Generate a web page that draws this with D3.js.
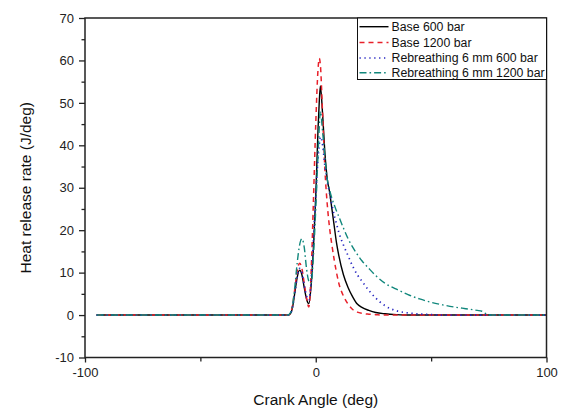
<!DOCTYPE html>
<html>
<head>
<meta charset="utf-8">
<script src="https://cdn.jsdelivr.net/npm/d3@7"></script>
<style>
  html, body { margin: 0; padding: 0; background: #fff; }
  svg { display: block; font-family: "Liberation Sans", Arial, sans-serif; }
</style>
</head>
<body>
<svg id="chart" width="562" height="415"></svg>
<script>
// ---- data ----
const crankAngle = [-95, -50, -20, -12, -11, -10, -9, -8, -7, -6, -5, -4, -3, -2, -1, 0, 1, 1.5, 2, 3, 4, 5, 6, 7, 8, 9, 10, 12, 14, 16, 18, 20, 23, 26, 30, 35, 40, 45, 50, 55, 60, 65, 70, 72, 75, 80, 90, 100];

const base600 =  [0, 0, 0, 0, 0.3, 2, 5.5, 9, 10.6, 9.5, 6.5, 3.8, 2.7, 7, 16, 28, 44, 50, 54, 47, 38, 32, 29, 25, 21, 17, 14, 9.5, 6.5, 4.3, 2.6, 1.8, 1.1, 0.6, 0.3, 0.1, 0, 0, 0, 0, 0, 0, 0, 0, 0, 0, 0, 0];
const base1200 = [0, 0, 0, 0, 0.3, 2.5, 6.5, 10.5, 12.2, 11, 7.5, 4, 1.9, 10, 27, 45, 58, 60.5, 59, 47, 34, 26, 20.5, 16.5, 13, 10, 7.5, 4.5, 2.6, 1.3, 0.7, 0.4, 0.2, 0.1, 0, 0, 0, 0, 0, 0, 0, 0, 0, 0, 0, 0, 0, 0];
const reb600 =   [0, 0, 0, 0, 0.3, 2, 5.5, 9, 11, 10, 7, 4.5, 3.5, 8, 18, 28, 37, 40, 42, 40, 35, 31.5, 28.7, 26, 23.5, 21.5, 19.5, 16.5, 14, 11.5, 9.5, 8, 5.8, 4, 2.2, 1, 0.5, 0.25, 0.1, 0, 0, 0, 0, 0, 0, 0, 0, 0];
const reb1200 =  [0, 0, 0, 0, 0.5, 2.5, 7, 12.5, 16.5, 18, 16, 11, 8, 7.5, 14, 25, 38, 44, 48, 43, 37, 32, 29.5, 27.5, 26, 24.5, 23.2, 20.5, 18, 16, 14.3, 12.8, 11, 9.3, 7.5, 6.1, 4.8, 3.8, 3, 2.4, 1.9, 1.5, 1.1, 0.9, 0, 0, 0, 0];

const seriesNames = ["Base 600 bar", "Base 1200 bar", "Rebreathing 6 mm 600 bar", "Rebreathing 6 mm 1200 bar"];
const seriesValues = [base600, base1200, reb600, reb1200];
const seriesColors = ["#000000", "#e8202a", "#2424c0", "#11877c"];
const seriesDash = [null, "5,4", "1.3,3.6", "7,3,1.6,3"];
const seriesWidth = [1.4, 1.5, 1.7, 1.4];

const xMajorTicks = [-100, 0, 100];
const xMinorTicks = [-50, 50];
const yMajorTicks = [-10, 0, 10, 20, 30, 40, 50, 60, 70];
const yMinorTicks = [-5, 5, 15, 25, 35, 45, 55, 65];

const xTitle = "Crank Angle (deg)";
const yTitle = "Heat release rate (J/deg)";

// ---- layout ----
const svg = d3.select("#chart");
const L = 85, R = 546.5, T = 18, B = 357.5;

const x = d3.scaleLinear().domain([-100, 100]).range([L, R]);
const y = d3.scaleLinear().domain([-10, 70]).range([B, T]);

const axisColor = "#222";
const plainNum = d => String(d);

// lines
const line = d3.line()
  .x(d => x(d[0]))
  .y(d => y(d[1]))
  .curve(d3.curveMonotoneX);

const g = svg.append("g");
seriesValues.forEach((vals, i) => {
  const pts = crankAngle.map((a, j) => [a, vals[j]]);
  g.append("path")
    .datum(pts)
    .attr("d", line)
    .attr("fill", "none")
    .attr("stroke", seriesColors[i])
    .attr("stroke-width", seriesWidth[i])
    .attr("stroke-dasharray", seriesDash[i]);
});

// axes
function styleAxis(sel) {
  sel.select(".domain").remove();
  sel.selectAll("line").attr("stroke", axisColor).attr("stroke-width", 1.3);
  sel.selectAll("text").attr("fill", axisColor).style("font-size", "13px")
     .style("font-family", "'Liberation Sans', Arial, sans-serif");
}

svg.append("g").attr("transform", `translate(0,${B})`)
  .call(d3.axisBottom(x).tickValues(xMajorTicks).tickSize(5).tickPadding(5).tickFormat(plainNum))
  .call(styleAxis);
svg.append("g").attr("transform", `translate(0,${B})`)
  .call(d3.axisBottom(x).tickValues(xMinorTicks).tickSize(4).tickFormat(""))
  .call(styleAxis);

svg.append("g").attr("transform", `translate(${L},0)`)
  .call(d3.axisLeft(y).tickValues(yMajorTicks).tickSize(6).tickPadding(5).tickFormat(plainNum))
  .call(styleAxis);
svg.append("g").attr("transform", `translate(${L},0)`)
  .call(d3.axisLeft(y).tickValues(yMinorTicks).tickSize(3.5).tickFormat(""))
  .call(styleAxis);

// frame
svg.append("rect")
  .attr("x", L).attr("y", T).attr("width", R - L).attr("height", B - T)
  .attr("fill", "none").attr("stroke", axisColor).attr("stroke-width", 1.5);

// axis titles
svg.append("text")
  .attr("x", (L + R) / 2).attr("y", 405)
  .attr("text-anchor", "middle")
  .style("font-size", "15.5px").attr("fill", "#111")
  .text(xTitle);
svg.append("text")
  .attr("transform", `translate(31,${(T + B) / 2}) rotate(-90)`)
  .attr("text-anchor", "middle")
  .style("font-size", "15.5px").attr("fill", "#111")
  .text(yTitle);

// legend
const lg = svg.append("g");
const lgX = 357.5, lgY = T, lgW = R - 357.5, lgH = 61.5;
lg.append("rect").attr("x", lgX).attr("y", lgY).attr("width", lgW).attr("height", lgH)
  .attr("fill", "#fff").attr("stroke", "#111").attr("stroke-width", 1);
const rowY = [26.7, 42.5, 58, 72.7];
seriesNames.forEach((name, i) => {
  lg.append("line")
    .attr("x1", lgX + 2).attr("x2", lgX + 31)
    .attr("y1", rowY[i]).attr("y2", rowY[i])
    .attr("stroke", seriesColors[i])
    .attr("stroke-width", seriesWidth[i])
    .attr("stroke-dasharray", seriesDash[i]);
  lg.append("text")
    .attr("x", lgX + 34).attr("y", rowY[i] + 4.3)
    .style("font-size", "12.3px").attr("fill", "#111")
    .text(name);
});
</script>
</body>
</html>
